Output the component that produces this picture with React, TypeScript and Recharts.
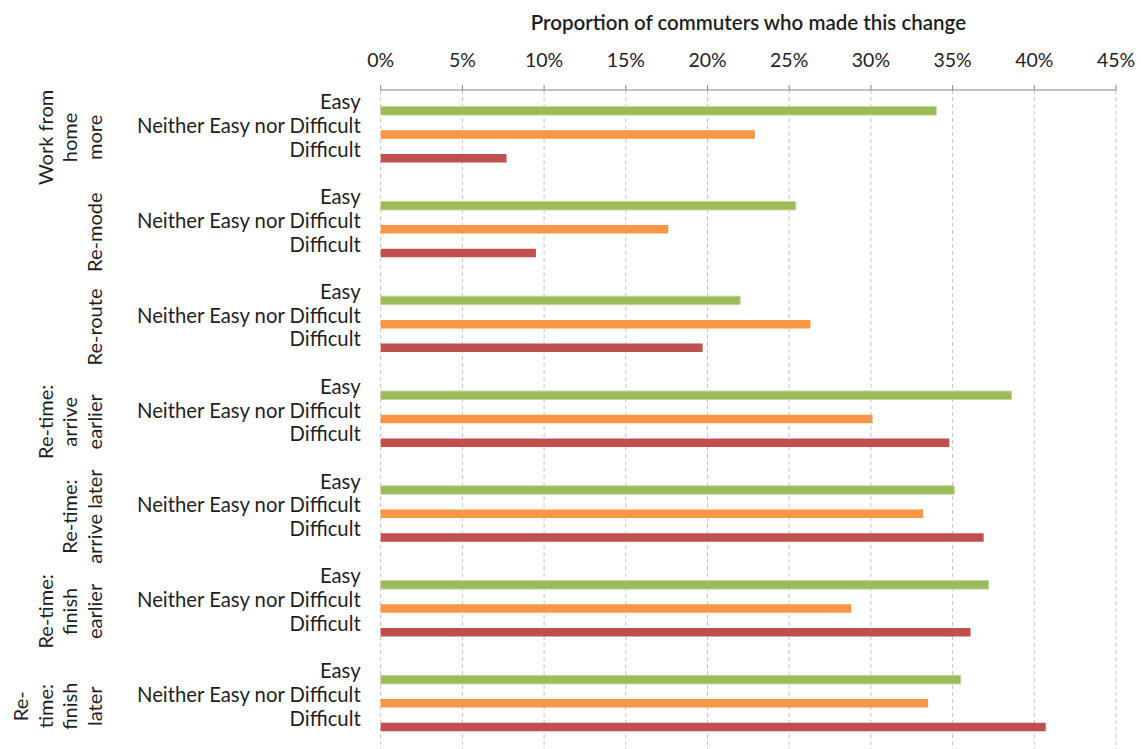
import { BarChart, Bar, XAxis, YAxis, CartesianGrid, Cell } from 'recharts'

const responses = ['Easy', 'Neither Easy nor Difficult', 'Difficult']

// group labels, already split the way the original wraps them
const groupLines = [
  ['Work from', 'home', 'more'],
  ['Re-mode'],
  ['Re-route'],
  ['Re-time:', 'arrive', 'earlier'],
  ['Re-time:', 'arrive later'],
  ['Re-time:', 'finish', 'earlier'],
  ['Re-', 'time:', 'finish', 'later'],
]

// % of commuters who made this change
const easy = [34.0, 25.4, 22.0, 38.6, 35.1, 37.2, 35.5]
const neither = [22.9, 17.6, 26.3, 30.1, 33.2, 28.8, 33.5]
const difficult = [7.7, 9.5, 19.7, 34.8, 36.9, 36.1, 40.7]

const xTicks = [0, 5, 10, 15, 20, 25, 30, 35, 40, 45]

const colors = ['#9BBB59', '#F79646', '#C0504D']
const font = "Lato, 'Noto Sans', sans-serif"
const ink = '#1f1f1f'

type Row = { id: string; label: string; group: number; value: number | null; kind: number }

const seriesByResponse = [easy, neither, difficult]
const rows: Row[] = []
groupLines.forEach((_, g) => {
  responses.forEach((label, r) => {
    rows.push({ id: `${g}-${r}`, label, group: g, value: seriesByResponse[r][g], kind: r })
  })
  // blank slot between groups
  rows.push({ id: `${g}-gap`, label: '', group: g, value: null, kind: -1 })
})

const RowTick = (props: any) => {
  const { x, y, payload } = props
  const row = rows.find((r) => r.id === payload.value)
  if (!row || !row.label) return null
  return (
    <text x={x} y={y - 1} textAnchor="end" fontSize={20.3} fill={ink} fontFamily={font}>
      {row.label}
    </text>
  )
}

const GroupTick = (props: any) => {
  const { x, y, payload } = props
  const lines = groupLines[payload.value] || []
  const n = lines.length
  return (
    <text
      transform={`rotate(-90 ${x} ${y})`}
      textAnchor="middle"
      fontSize={20}
      fill={ink}
      fontFamily={font}
    >
      {lines.map((line, i) => (
        <tspan key={i} x={x} y={y + (i - (n - 1)) * 24.5}>
          {line}
        </tspan>
      ))}
    </text>
  )
}

export default function App() {
  return (
    <div
      style={{
        position: 'absolute',
        left: 0,
        top: 0,
        width: 1141,
        height: 749,
        overflow: 'hidden',
        background: '#fff',
      }}
    >
      <BarChart
        width={1141}
        height={770}
        data={rows}
        layout="vertical"
        margin={{ top: 0, right: 25, bottom: 7.8, left: 0 }}
      >
        <CartesianGrid horizontal={false} stroke="#c4c4c4" strokeDasharray="4 3" />
        <XAxis
          type="number"
          orientation="top"
          domain={[0, 45]}
          ticks={xTicks}
          interval={0}
          height={90}
          tickFormatter={(v: number) => `${v}%`}
          stroke="#868686"
          tickSize={5}
          tickMargin={18}
          tick={{ fontSize: 19.5, fill: ink, fontFamily: font }}
          label={{
            value: 'Proportion of commuters who made this change',
            position: 'insideTop',
            offset: 15,
            style: { fontSize: 20.5, fontWeight: 600, fill: ink, fontFamily: font },
          }}
        />
        <YAxis
          yAxisId={0}
          type="category"
          dataKey="id"
          width={250}
          axisLine={false}
          tickLine={false}
          tickSize={0}
          tickMargin={20}
          interval={0}
          padding={{ top: 8.6, bottom: 0 }}
          tick={<RowTick />}
        />
        <YAxis
          yAxisId="group"
          type="category"
          dataKey="group"
          allowDuplicatedCategory={false}
          width={130.7}
          axisLine={false}
          tickLine={false}
          tickSize={0}
          tickMargin={28.7}
          interval={0}
          padding={{ top: 0, bottom: 8.6 }}
          tick={<GroupTick />}
        />
        <Bar dataKey="value" yAxisId={0} barSize={8.5} isAnimationActive={false}>
          {rows.map((r) => (
            <Cell
              key={r.id}
              fill={r.kind >= 0 ? colors[r.kind] : 'none'}
              stroke={r.kind === 0 ? '#c3d69b' : 'none'}
              strokeWidth={1}
            />
          ))}
        </Bar>
      </BarChart>
    </div>
  )
}
